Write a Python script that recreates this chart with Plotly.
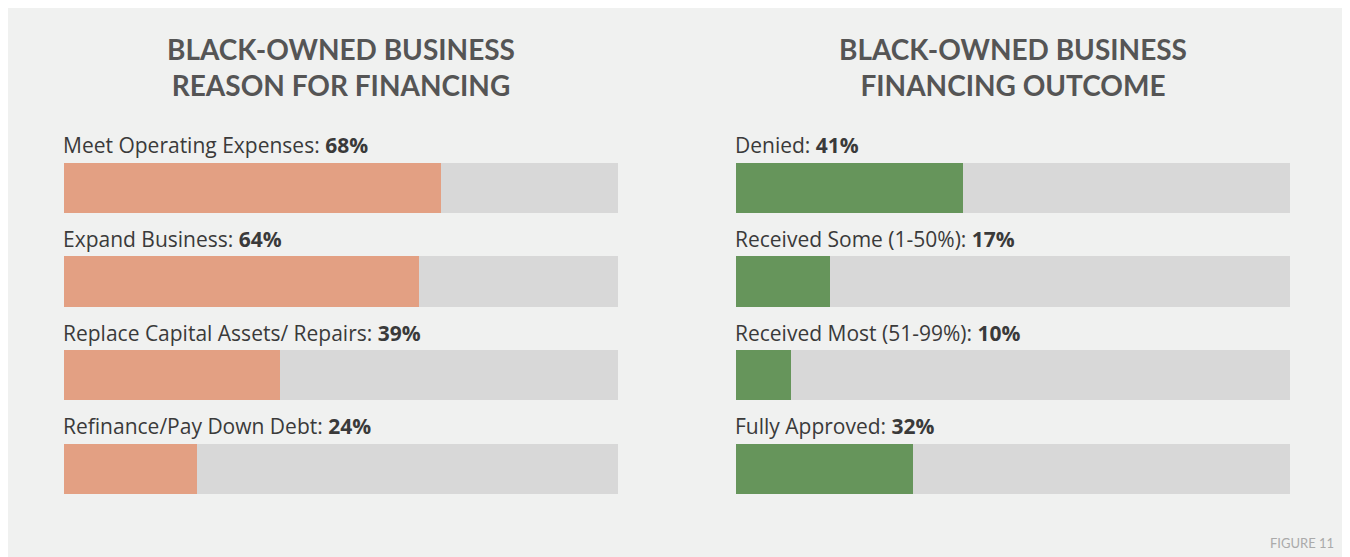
import plotly.graph_objects as go

# The page places the figure 8px in from the top-left corner.
OX, OY = 8, 8
W, H = 1350 - OX, 557 - OY

left_title = "BLACK-OWNED BUSINESS<br>REASON FOR FINANCING"
left_cats = ["Meet Operating Expenses", "Expand Business", "Replace Capital Assets/ Repairs", "Refinance/Pay Down Debt"]
left_vals = [68, 64, 39, 24]

right_title = "BLACK-OWNED BUSINESS<br>FINANCING OUTCOME"
right_cats = ["Denied", "Received Some (1-50%)", "Received Most (51-99%)", "Fully Approved"]
right_vals = [41, 17, 10, 32]

footer = "FIGURE 11"

ORANGE = "#e3a083"
GREEN = "#66955b"
TRACK = "#d8d8d8"
PANEL = "#f0f1f0"
TITLE_C = "#555555"
LABEL_C = "#3a3a3a"


def px(x):
    return (x - OX) / W


def py(y):
    return 1 - (y - OY) / H


fig = go.Figure()

BAR_W = 0.535
panels = [
    (left_cats, left_vals, ORANGE, "x", "y", left_title),
    (right_cats, right_vals, GREEN, "x2", "y2", right_title),
]

annotations = []
for cats, vals, color, xa, ya, title in panels:
    idx = list(range(len(cats)))
    fig.add_trace(go.Bar(x=[100] * len(cats), y=idx, orientation="h", width=BAR_W,
                         marker=dict(color=TRACK, line=dict(width=0)), xaxis=xa, yaxis=ya,
                         hoverinfo="skip", showlegend=False))
    fig.add_trace(go.Bar(x=vals, y=idx, orientation="h", width=BAR_W,
                         marker=dict(color=color, line=dict(width=0)), xaxis=xa, yaxis=ya,
                         showlegend=False))
    for i, (c, v) in enumerate(zip(cats, vals)):
        annotations.append(dict(
            x=0, y=i - 0.45, xref=xa, yref=ya,
            text=f"{c}: <b>{v}%</b>", showarrow=False, xanchor="left", yanchor="middle",
            xshift=-3,
            font=dict(family="Open Sans", size=21, color=LABEL_C),
        ))
    annotations.append(dict(
        x=0.5, y=py(66.5), xref=f"{xa} domain", yref="paper",
        text=f"<b>{title}</b>", showarrow=False, xanchor="center", yanchor="middle",
        font=dict(family="Lato", size=28, color=TITLE_C),
    ))

annotations.append(dict(
    x=px(1336), y=py(543), xref="paper", yref="paper", text=footer, showarrow=False,
    xanchor="right", yanchor="middle", font=dict(family="Lato", size=13, color="#aaaaaa"),
))

ydom = [py(515.45), py(140.65)]
axis_common = dict(showgrid=False, zeroline=False, showticklabels=False, showline=False, fixedrange=True)

fig.update_layout(
    width=W, height=H,
    margin=dict(l=0, r=0, t=0, b=0),
    paper_bgcolor=PANEL,
    plot_bgcolor="rgba(0,0,0,0)",
    barmode="overlay",
    bargap=0,
    xaxis=dict(domain=[px(64), px(618)], range=[0, 100], **axis_common),
    yaxis=dict(domain=ydom, range=[3.5, -0.5], **axis_common),
    xaxis2=dict(domain=[px(736), px(1290)], range=[0, 100], anchor="y2", **axis_common),
    yaxis2=dict(domain=ydom, range=[3.5, -0.5], anchor="x2", **axis_common),
    annotations=annotations,
)

fig.write_html("out.html")
